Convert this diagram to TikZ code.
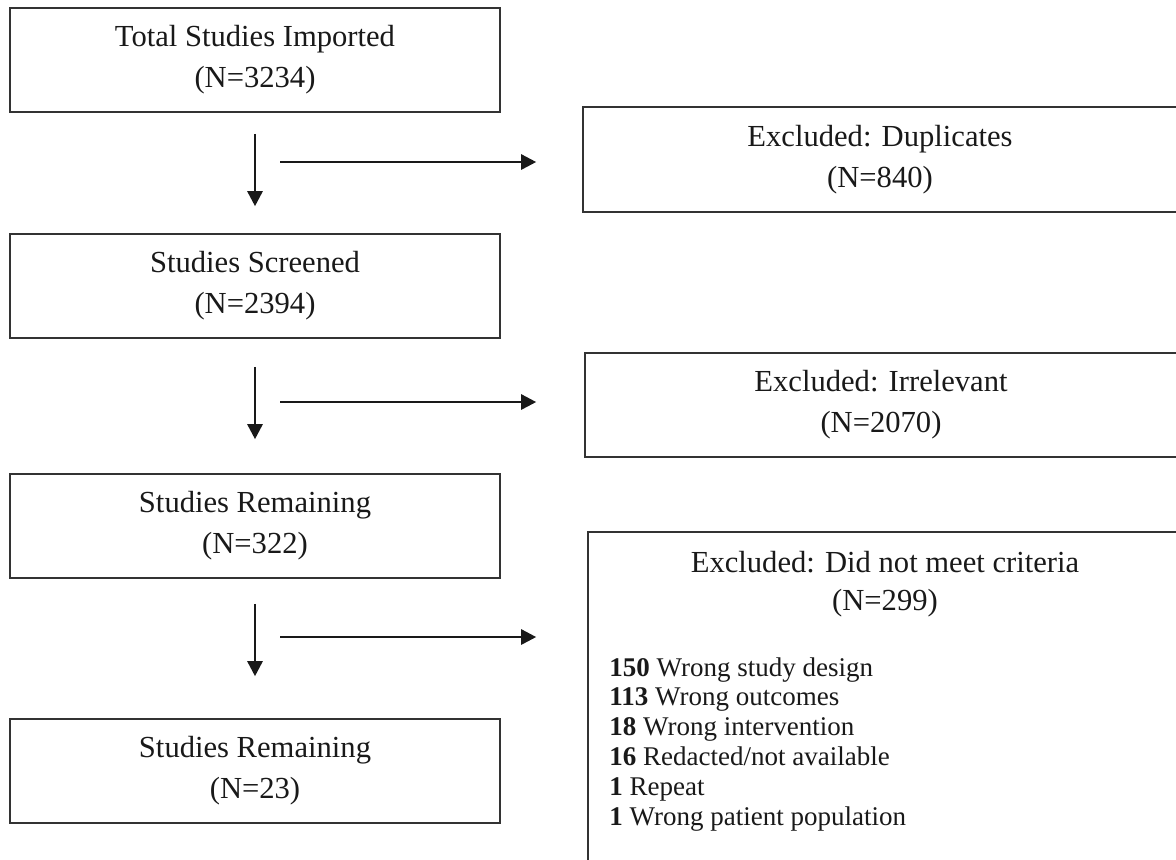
\documentclass[tikz,border=0pt]{standalone}
\usepackage{fontspec}
\setmainfont{Liberation Serif}
\usetikzlibrary{arrows.meta,calc}
\begin{document}
\begin{tikzpicture}[x=0.5pt,y=-0.5pt,
  box/.style={draw=black!80, line width=0.8pt, rectangle, inner sep=0pt, align=center,
    font=\fontsize{15.3}{20.5}\selectfont, text=black!90},
  frame/.style={draw=black!80, line width=0.8pt, rectangle, inner sep=0pt},
  arr/.style={line width=1.3pt, draw=black!90, -{Triangle[length=7.5pt,width=7.5pt]}},
  item/.style={anchor=base west, inner sep=0pt, font=\fontsize{13.5}{15}\selectfont, text=black!90},
  lbl/.style={anchor=base, inner sep=0pt, font=\fontsize{15.3}{20}\selectfont, text=black!90}]
\useasboundingbox (0,0) rectangle (1176,859);
\clip (0,0) rectangle (1176,859);
\fill[white] (0,0) rectangle (1176,859);

% left column
\node[box, minimum width=245pt, minimum height=52pt] (b1) at (255,60) {Total Studies Imported\\(N=3234)};
\node[box, minimum width=245pt, minimum height=52pt] (b2) at (255,286) {Studies Screened\\(N=2394)};
\node[box, minimum width=245pt, minimum height=52pt] (b3) at (255,526) {Studies Remaining\\(N=322)};
\node[box, minimum width=245pt, minimum height=52pt] (b4) at (255,771) {Studies Remaining\\(N=23)};

% right column
\node[box, minimum width=297pt, minimum height=52.5pt] (e1) at (880,159.5) {Excluded: Duplicates\\(N=840)};
\node[box, minimum width=296pt, minimum height=52pt] (e2) at (881,405) {Excluded: Irrelevant\\(N=2070)};
\node[frame, minimum width=297pt, minimum height=200pt, anchor=north] (e3) at (885,531) {};
\node[lbl] (t3a) at (885,572) {Excluded: Did not meet criteria};
\node[lbl] (t3b) at (885,610) {(N=299)};
\node[item] (l1) at (609,676) {\textbf{150} Wrong study design};
\node[item] (l2) at (609,705.8) {\textbf{113} Wrong outcomes};
\node[item] (l3) at (609,735.6) {\textbf{18} Wrong intervention};
\node[item] (l4) at (609,765.4) {\textbf{16} Redacted/not available};
\node[item] (l5) at (609,795.2) {\textbf{1} Repeat};
\node[item] (l6) at (609,825) {\textbf{1} Wrong patient population};

% vertical arrows
\draw[arr] ($(b1.south)+(0,21)$) -- ($(b2.north)+(0,-27)$);
\draw[arr] ($(b2.south)+(0,28)$) -- ($(b3.north)+(0,-34)$);
\draw[arr] ($(b3.south)+(0,25)$) -- ($(b4.north)+(0,-42)$);

% horizontal arrows
\coordinate (h1) at (280,162);
\coordinate (h2) at (280,402);
\coordinate (h3) at (280,637);
\draw[arr] (h1) -- ($(h1 -| e1.west)+(-46,0)$);
\draw[arr] (h2) -- ($(h2 -| e2.west)+(-48,0)$);
\draw[arr] (h3) -- ($(h3 -| e3.west)+(-51,0)$);
\end{tikzpicture}
\end{document}
